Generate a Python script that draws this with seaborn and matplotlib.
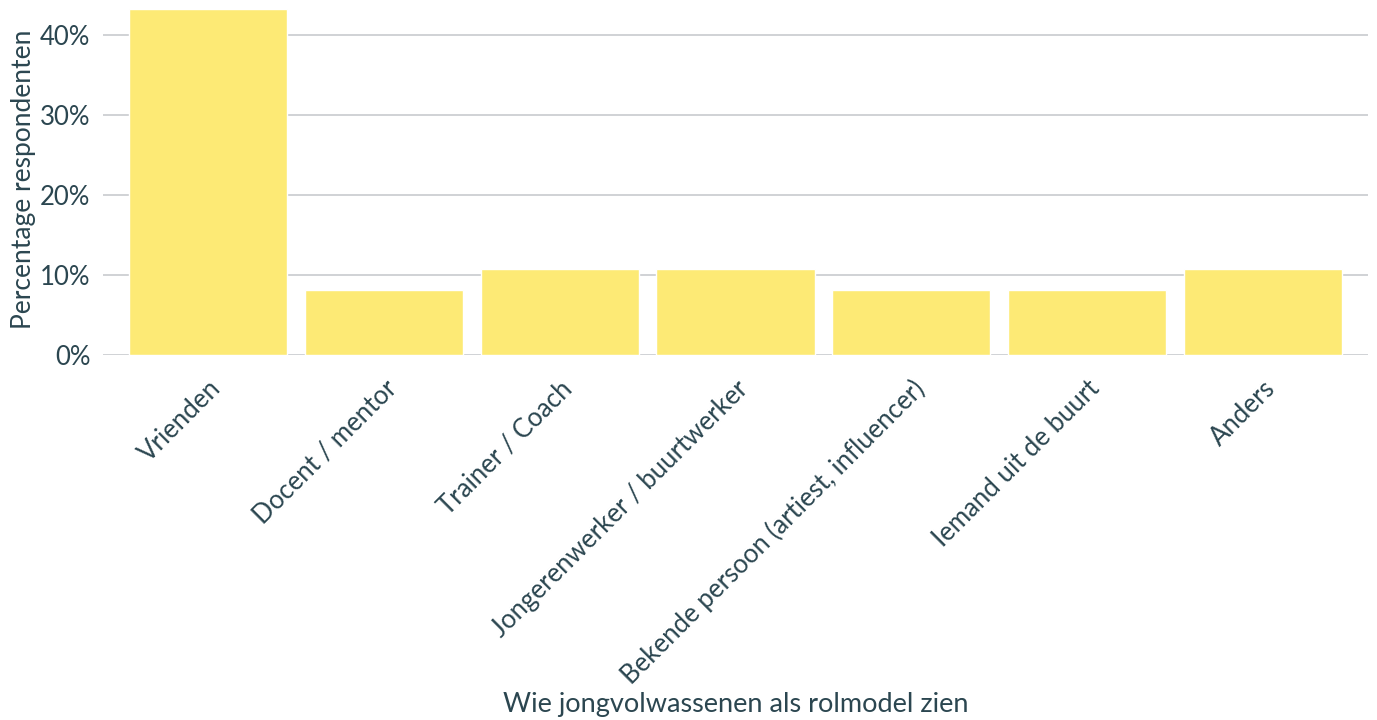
import pandas as pd
import matplotlib
matplotlib.use("Agg")
import matplotlib.pyplot as plt
import seaborn as sns
from matplotlib.ticker import PercentFormatter

# data (share of respondents)
categories = ["Vrienden", "Docent / mentor", "Trainer / Coach",
              "Jongerenwerker / buurtwerker",
              "Bekende persoon (artiest, influencer)",
              "Iemand uit de buurt", "Anders"]
percentages = [0.432, 0.081, 0.108, 0.108, 0.081, 0.081, 0.108]

text_color = "#2b4650"
bar_color = "#fdea75"
grid_color = "#c8cbce"

sns.set_theme(style="white")
plt.rcParams["font.family"] = ["Lato", "DejaVu Sans"]

df = pd.DataFrame({"categorie": categories, "pct": percentages})

fig = plt.figure(figsize=(13.77, 7.2), dpi=100)
ax = fig.add_axes([103 / 1377, 0.507, 1265 / 1377, 0.489])

sns.barplot(data=df, x="categorie", y="pct", color=bar_color,
            saturation=1, width=0.9, ax=ax)

ax.set_xlim(-0.6, 6.6)
ax.set_ylim(0, 0.44)
ax.set_yticks([0, 0.1, 0.2, 0.3, 0.4])
ax.yaxis.set_major_formatter(PercentFormatter(1.0, decimals=0))
ax.yaxis.grid(True, color=grid_color, linewidth=1.2)
ax.set_axisbelow(True)
for s in ax.spines.values():
    s.set_visible(False)

ax.tick_params(axis="y", length=0, pad=9, labelsize=18.5, labelcolor=text_color)
ax.tick_params(axis="x", length=0, pad=15, labelsize=18.5, labelcolor=text_color)
for lab in ax.get_xticklabels():
    lab.set_rotation(45)
    lab.set_ha("right")
    lab.set_rotation_mode("anchor")

ax.set_ylabel("Percentage respondenten", fontsize=19, color=text_color, labelpad=3)
ax.set_xlabel("Wie jongvolwassenen als rolmodel zien", fontsize=19.5,
              color=text_color, labelpad=2)

fig.savefig("out.png", dpi=100)
